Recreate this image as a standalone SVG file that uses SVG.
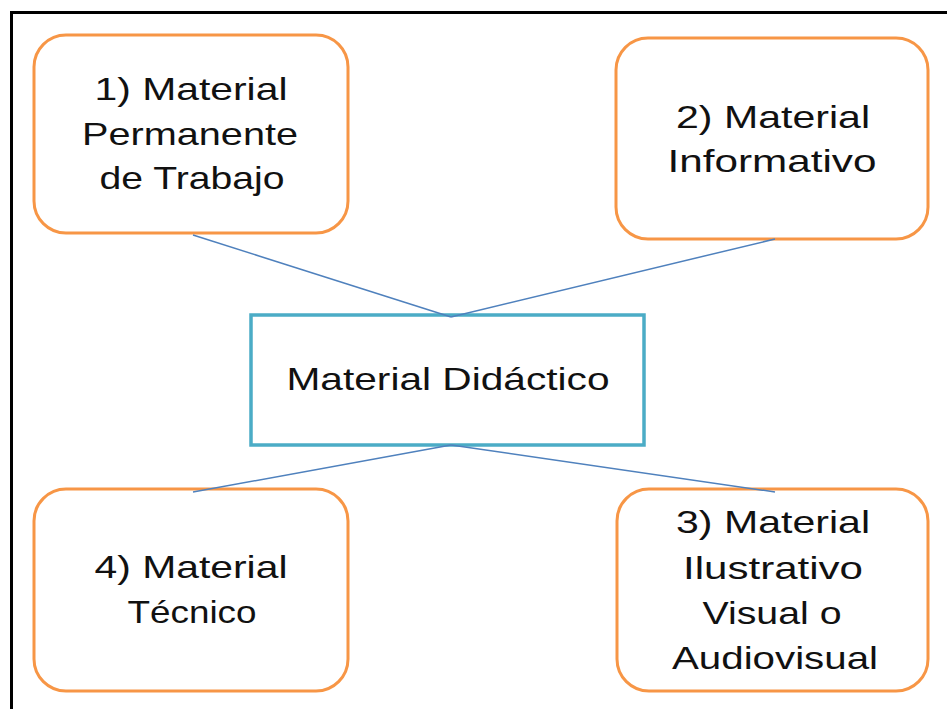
<svg xmlns="http://www.w3.org/2000/svg" width="947" height="709" viewBox="0 0 947 709">
<style>
.n{fill:#fff;stroke:#F79646;stroke-width:3}
.c{fill:#fff;stroke:#4BACC6;stroke-width:3.5}
.t{font-family:"Liberation Sans",Arial,sans-serif;font-size:32px;fill:#111;text-anchor:middle}
.l{stroke:#4F81BD;stroke-width:1.5;fill:none}
</style>
<rect width="947" height="709" fill="#fff"/>
<rect x="11.5" y="12.5" width="980" height="740" fill="none" stroke="#000" stroke-width="3"/>
<g id="n1">
<rect class="n" x="34" y="35" width="314" height="198" rx="32"/>
<text class="t" x="191" y="100" textLength="193" lengthAdjust="spacingAndGlyphs">1) Material</text>
<text class="t" x="190" y="145" textLength="216" lengthAdjust="spacingAndGlyphs">Permanente</text>
<text class="t" x="192" y="189" textLength="185" lengthAdjust="spacingAndGlyphs">de Trabajo</text>
</g>
<g id="n2">
<rect class="n" x="616" y="38" width="312" height="201" rx="32"/>
<text class="t" x="773" y="128" textLength="194" lengthAdjust="spacingAndGlyphs">2) Material</text>
<text class="t" x="772" y="172" textLength="209" lengthAdjust="spacingAndGlyphs">Informativo</text>
</g>
<g id="center">
<rect class="c" x="251" y="315" width="393" height="130"/>
<text class="t" x="448" y="390" textLength="323" lengthAdjust="spacingAndGlyphs">Material Didáctico</text>
</g>
<g id="n4">
<rect class="n" x="34" y="489" width="314" height="202" rx="32"/>
<text class="t" x="191" y="578" textLength="193" lengthAdjust="spacingAndGlyphs">4) Material</text>
<text class="t" x="192" y="623" textLength="129" lengthAdjust="spacingAndGlyphs">Técnico</text>
</g>
<g id="n3">
<rect class="n" x="617" y="489" width="311" height="202" rx="32"/>
<text class="t" x="773" y="533" textLength="194" lengthAdjust="spacingAndGlyphs">3) Material</text>
<text class="t" x="773" y="579" textLength="180" lengthAdjust="spacingAndGlyphs">Ilustrativo</text>
<text class="t" x="772" y="624" textLength="139" lengthAdjust="spacingAndGlyphs">Visual o</text>
<text class="t" x="775" y="669" textLength="206" lengthAdjust="spacingAndGlyphs">Audiovisual</text>
</g>
<g id="connectors">
<line class="l" x1="193" y1="235" x2="451" y2="317"/>
<line class="l" x1="775" y1="239" x2="451" y2="317"/>
<line class="l" x1="451" y1="445" x2="193" y2="492"/>
<line class="l" x1="451" y1="445" x2="775" y2="492"/>
</g>
</svg>
